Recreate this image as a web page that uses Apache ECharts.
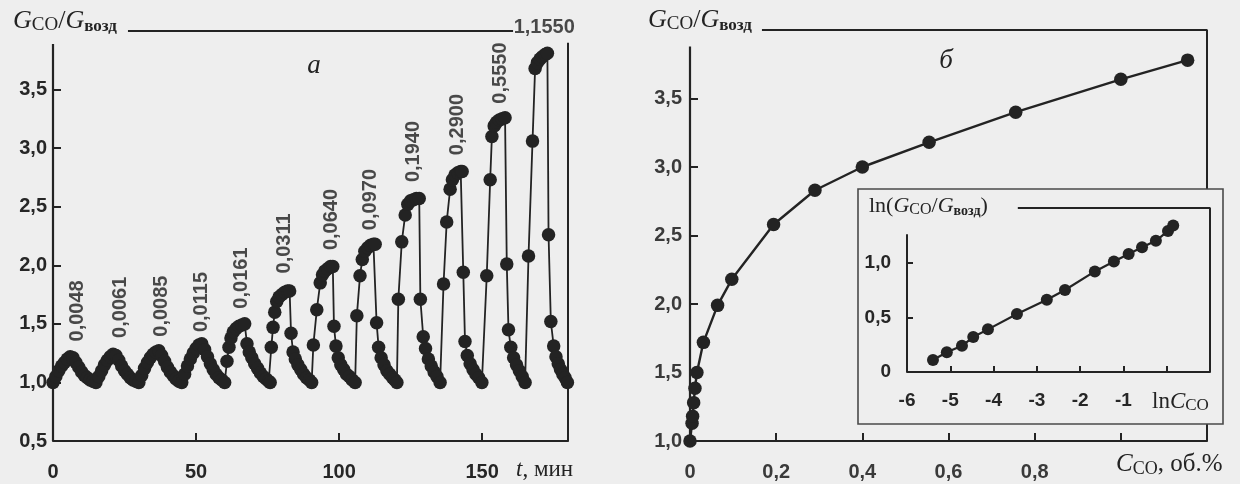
<!DOCTYPE html>
<html>
<head>
<meta charset="utf-8">
<title>G_CO/G_возд</title>
<script src="https://cdn.jsdelivr.net/npm/echarts@6.0.0/dist/echarts.min.js"></script>
<style>
html,body{margin:0;padding:0;background:#eeeeee;}
#chart{width:1240px;height:484px;}
</style>
</head>
<body>
<div id="chart"></div>
<script>
// ===== Panel а: G_CO/G_возд vs time t, min =====
const timeMin = [
  0,1,2,3,4,5,6,7,8,9,10,11,12,13,14,15,
  16,17,18,19,20,21,22,23,24,25,26,27,28,29,30,
  31,32,33,34,35,36,37,38,39,40,41,42,43,44,45,
  46,47,48,49,50,51,52,53,54,55,56,57,58,59,60,
  60.8,61.5,62.2,63,64,65,66,67,67.8,68.6,69.5,70.5,71.5,72.5,73.5,74.5,75.4,
  75.9,76.3,76.9,77.5,78.2,79,80,81,82,82.7,83.2,83.9,84.7,85.6,86.6,87.6,88.6,89.6,90.4,
  91.0,92.2,93.4,94.2,95,96,97,97.8,98.2,98.9,99.7,100.6,101.6,102.6,103.6,104.6,105.6,
  106.2,107.3,108.1,109,110,111,112,112.6,113.1,113.8,114.7,115.7,116.7,117.7,118.7,119.5,120.2,
  120.7,121.9,123.1,124,125,126,127,128,128.4,129.4,130.2,131.2,132.2,133.2,134.2,135.3,
  136.5,137.6,138.8,139.6,140.5,141.5,142.5,143.0,143.4,144.0,144.8,145.8,146.8,147.8,148.8,149.9,
  151.6,152.8,153.4,154.2,155,156,157,158,158.6,159.2,160,161,162,163,164,165,
  166.2,167.6,168.5,169.3,170.2,171,172,172.8,173.2,174,175,175.8,176.6,177.4,178.2,179,179.8
];
const ratioA = [
  1.00,1.05,1.10,1.14,1.17,1.20,1.22,1.21,1.17,1.13,1.09,1.06,1.04,1.02,1.01,1.00,
  1.05,1.10,1.15,1.19,1.22,1.24,1.23,1.19,1.14,1.10,1.07,1.04,1.02,1.01,1.00,
  1.06,1.12,1.17,1.21,1.24,1.26,1.27,1.23,1.18,1.13,1.09,1.06,1.03,1.01,1.00,
  1.07,1.14,1.20,1.25,1.29,1.32,1.33,1.28,1.22,1.16,1.11,1.07,1.04,1.02,1.00,
  1.18,1.30,1.38,1.43,1.46,1.48,1.49,1.50,1.33,1.26,1.21,1.16,1.12,1.08,1.05,1.03,1.01,
  1.00,1.30,1.47,1.60,1.69,1.73,1.75,1.77,1.78,1.78,1.42,1.26,1.20,1.15,1.11,1.07,1.04,1.02,1.00,
  1.32,1.62,1.85,1.92,1.95,1.97,1.99,1.99,1.48,1.31,1.21,1.15,1.11,1.07,1.05,1.02,1.00,
  1.57,1.91,2.05,2.12,2.15,2.17,2.18,2.18,1.51,1.30,1.21,1.15,1.10,1.07,1.04,1.02,1.00,
  1.71,2.20,2.43,2.52,2.55,2.56,2.57,2.57,1.71,1.39,1.29,1.20,1.14,1.09,1.05,1.00,
  1.84,2.37,2.65,2.73,2.77,2.79,2.80,2.80,1.94,1.35,1.23,1.16,1.11,1.07,1.04,1.00,
  1.91,2.73,3.10,3.19,3.22,3.24,3.25,3.26,2.01,1.45,1.30,1.21,1.15,1.10,1.05,1.00,
  2.08,3.06,3.68,3.73,3.76,3.78,3.80,3.81,2.26,1.52,1.31,1.22,1.16,1.11,1.07,1.04,1.00
];
// CO concentration (об.%) of each pulse, with label anchor (t, level)
const concLabels = ['0,0048','0,0061','0,0085','0,0115','0,0161','0,0311','0,0640','0,0970','0,1940','0,2900','0,5550','1,1550'];
const labelTime  = [8.6, 23.6, 37.9, 52.0, 66.0, 81.0, 97.5, 111.1, 126.1, 141.2, 156.5, 171.7];
const labelLevel = [1.35, 1.38, 1.39, 1.43, 1.63, 1.93, 2.13, 2.30, 2.71, 2.94, 3.38, 4.03];

// ===== Panel б: G_CO/G_возд vs C_CO, об.% =====
const concB  = [0, 0.0048, 0.0061, 0.0085, 0.0115, 0.0161, 0.0311, 0.064, 0.097, 0.194, 0.29, 0.40, 0.555, 0.756, 1.00, 1.155];
const ratioB = [1.00, 1.13, 1.18, 1.28, 1.385, 1.50, 1.72, 1.99, 2.18, 2.58, 2.83, 3.00, 3.18, 3.40, 3.64, 3.78];

// ===== Inset: ln(G_CO/G_возд) vs ln C_CO =====
const lnConc  = [-5.40, -5.08, -4.73, -4.47, -4.13, -3.46, -2.77, -2.35, -1.66, -1.22, -0.88, -0.57, -0.25, 0.03, 0.15];
const lnRatio = [0.11, 0.18, 0.24, 0.32, 0.39, 0.53, 0.66, 0.75, 0.92, 1.01, 1.08, 1.14, 1.20, 1.29, 1.34];

// tick positions (marked inside the frames)
const ticksYA = [1.0, 1.5, 2.0, 2.5, 3.0, 3.5];
const ticksYB = [1.5, 2.0, 2.5, 3.0, 3.5];
const ticksXI = [-5, -4, -3, -2, -1, 0];
const ticksYI = [0.5, 1.0];

// ---------------- layout & style ----------------
const INK = '#232323';
const BG = '#eeeeee';
const SANS = 'Liberation Sans, Arial, sans-serif';
const SERIF = 'Liberation Serif, Times New Roman, serif';
const GA = {left: 53, top: 31, width: 515, height: 410};
const GB = {left: 690, top: 30, width: 517, height: 411};
const GI = {left: 907, top: 208, width: 303, height: 164};

const dec1 = v => v.toFixed(1).replace('.', ',');

function xAx(gi, min, max, interval, fmt, o) {
  o = o || {};
  const tick = {show: true, inside: true, length: o.tl || 8, lineStyle: {color: INK, width: 2}};
  if (o.ticks) tick.customValues = o.ticks;
  return {
    type: 'value', gridIndex: gi, min: min, max: max, interval: interval,
    z: o.z || 0,
    splitLine: {show: false},
    axisLine: {show: true, onZero: false, lineStyle: {color: INK, width: o.lw || 2.2}},
    axisTick: tick,
    axisLabel: {show: true, margin: o.margin || 21, color: o.color || '#262626', fontFamily: SANS,
      fontWeight: 'bold', fontSize: o.fs || 20, formatter: fmt, showMinLabel: true, showMaxLabel: true}
  };
}
function yAx(gi, min, max, interval, fmt, o) {
  o = o || {};
  const tick = {show: true, inside: true, length: o.tl || 8, lineStyle: {color: INK, width: 2}};
  if (o.ticks) tick.customValues = o.ticks;
  return {
    type: 'value', gridIndex: gi, min: min, max: max, interval: interval,
    z: o.z || 0,
    splitLine: {show: false},
    axisLine: {show: false, onZero: false},
    axisTick: tick,
    axisLabel: {show: true, margin: o.margin || 6, color: o.color || '#262626', fontFamily: SANS,
      fontWeight: 'bold', fontSize: o.fs || 20, formatter: fmt, showMinLabel: true, showMaxLabel: true}
  };
}
function seg(xi, pts, z, w) {
  return {
    type: 'line', xAxisIndex: xi, yAxisIndex: xi, data: pts, symbol: 'none', silent: true,
    clip: false, z: z || 2, animation: false,
    lineStyle: {color: INK, width: w || 2}
  };
}

const traceA = timeMin.map((t, i) => [t, ratioA[i]]);
const curveB = concB.map((c, i) => [c, ratioB[i]]);
const curveI = lnConc.map((c, i) => [c, lnRatio[i]]);
const labelData = concLabels.map((s, i) => {
  const last = i === concLabels.length - 1;
  return {
    name: s, value: [labelTime[i], labelLevel[i]],
    label: last ? {rotate: 0, align: 'center', verticalAlign: 'middle'}
                : {rotate: 90, align: 'left', verticalAlign: 'middle'}
  };
});

const rich = (fs) => ({
  i: {fontFamily: SERIF, fontStyle: 'italic', fontSize: fs, fill: INK, verticalAlign: 'top'},
  n: {fontFamily: SERIF, fontSize: fs, fill: INK, verticalAlign: 'top'},
  s: {fontFamily: SERIF, fontSize: Math.round(fs * 0.72), fill: INK, verticalAlign: 'top',
      padding: [Math.round(fs * 0.32), 0, 0, 0]},
  b: {fontFamily: SERIF, fontWeight: 'bold', fontSize: Math.round(fs * 0.64), fill: INK, verticalAlign: 'top',
      padding: [Math.round(fs * 0.4), 0, 0, 0]}
});
function txt(x, y, text, fs, z) {
  return {type: 'text', x: x, y: y, z: z || 10, silent: true,
    style: {text: text, rich: rich(fs), align: 'left', verticalAlign: 'top', fill: INK}};
}

const option = {
  backgroundColor: BG,
  animation: false,
  grid: [
    Object.assign({containLabel: false, outerBoundsMode: 'none'}, GA),
    Object.assign({containLabel: false, outerBoundsMode: 'none'}, GB),
    Object.assign({containLabel: false, outerBoundsMode: 'none', z: 4}, GI)
  ],
  xAxis: [
    xAx(0, 0, 180, 50, v => (v % 50 === 0 ? String(v) : ''), {margin: 21}),
    xAx(1, 0, 1.2, 0.2, v => (v > 0.9 ? '' : (v === 0 ? '0' : dec1(v))), {margin: 21, color: '#3a3a3a'}),
    xAx(2, -6, 1, 1, v => (v >= 0 ? '' : String(v)), {margin: 19, fs: 19, tl: 6, lw: 2, z: 4, ticks: ticksXI})
  ],
  yAxis: [
    yAx(0, 0.5, 4.0, 0.5, v => (v > 3.9 ? '' : dec1(v)), {margin: 6, ticks: ticksYA}),
    yAx(1, 1.0, 4.0, 0.5, v => (v > 3.9 ? '' : dec1(v)), {margin: 8, color: '#3a3a3a', ticks: ticksYB}),
    yAx(2, 0, 1.5, 0.5, v => (v > 1.4 ? '' : (v === 0 ? '0' : dec1(v))), {margin: 16, fs: 19, tl: 6, z: 4, ticks: ticksYI})
  ],
  graphic: [
    {type: 'rect', z: 3, silent: true,
     shape: {x: 858, y: 189, width: 365, height: 235},
     style: {fill: BG, stroke: '#4a4a4a', lineWidth: 1.6}},
    txt(13, 8, '{i|G}{s|CO}{n|/}{i|G}{b|возд}', 26),
    txt(648, 7, '{i|G}{s|CO}{n|/}{i|G}{b|возд}', 26),
    txt(869, 195, '{n|ln(}{i|G}{s|CO}{n|/}{i|G}{b|возд}{n|)}', 22),
    txt(516, 458, '{i|t}{n|, мин}', 23),
    txt(1116, 452, '{i|C}{s|CO}{n|, об.%}', 25),
    txt(1152, 390, '{n|ln}{i|C}{s|CO}', 23),
    {type: 'text', x: 314, y: 66, z: 10, silent: true,
     style: {text: 'а', font: 'italic 27px ' + SERIF, fill: INK, align: 'center', verticalAlign: 'middle'}},
    {type: 'text', x: 946, y: 61, z: 10, silent: true,
     style: {text: 'б', font: 'italic 27px ' + SERIF, fill: INK, align: 'center', verticalAlign: 'middle'}}
  ],
  series: [
    // panel а frame
    seg(0, [[0, 0.5], [0, 3.89]], 2, 2.2),
    seg(0, [[26.2, 4.0], [160.8, 4.0]], 2, 2),
    seg(0, [[180, 3.9], [180, 0.5]], 2, 2),
    {
      type: 'line', name: 'G(t)', xAxisIndex: 0, yAxisIndex: 0, data: traceA,
      symbol: 'circle', symbolSize: 13.5, clip: false, z: 3,
      lineStyle: {color: INK, width: 1.8}, itemStyle: {color: INK}
    },
    {
      type: 'scatter', name: 'C_CO', xAxisIndex: 0, yAxisIndex: 0, data: labelData,
      symbolSize: 0.1, clip: false, silent: true, itemStyle: {color: 'rgba(0,0,0,0)'},
      label: {show: true, position: 'inside', formatter: '{b}', color: '#1e1e1e',
              fontFamily: SANS, fontWeight: 'bold', fontSize: 20}
    },
    // panel б frame
    seg(1, [[0, 1.0], [0, 3.88]], 2, 2.2),
    seg(1, [[0.167, 4.0], [1.2, 4.0], [1.2, 1.0]], 2, 2),
    {
      type: 'line', name: 'G(C)', xAxisIndex: 1, yAxisIndex: 1, data: curveB,
      symbol: 'circle', symbolSize: 13.5, clip: false, z: 2,
      lineStyle: {color: INK, width: 2.4}, itemStyle: {color: INK}
    },
    // inset frame
    seg(2, [[-6, 0], [-6, 1.26]], 5, 2),
    seg(2, [[-3.44, 1.5], [1, 1.5], [1, 0]], 5, 2),
    {
      type: 'line', name: 'lnG(lnC)', xAxisIndex: 2, yAxisIndex: 2, data: curveI,
      symbol: 'circle', symbolSize: 12, clip: false, z: 6,
      lineStyle: {color: INK, width: 2.2}, itemStyle: {color: INK}
    }
  ]
};

const chart = echarts.init(document.getElementById('chart'), null, {renderer: 'canvas'});
chart.setOption(option);
</script>
</body>
</html>
